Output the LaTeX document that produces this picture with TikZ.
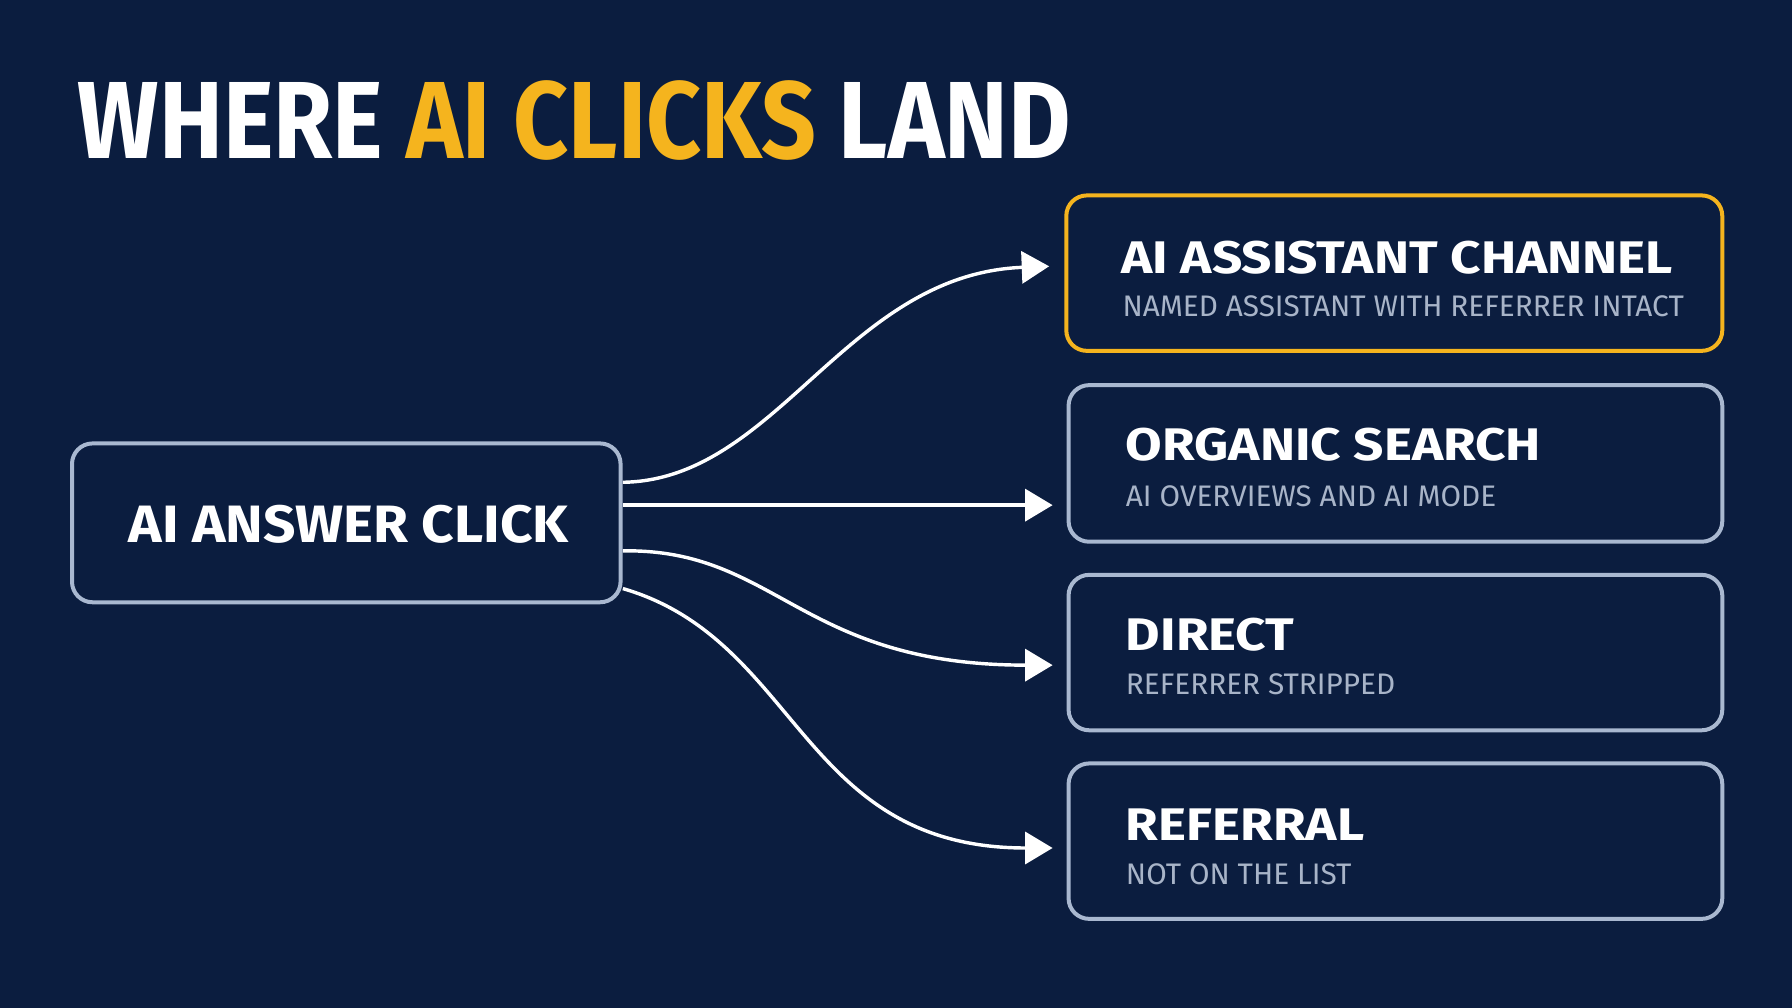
\documentclass[tikz,border=0pt]{standalone}
\usepackage{fontspec}
\setmainfont{Fira Sans}
\usetikzlibrary{arrows.meta}
\definecolor{bg}{HTML}{0B1D3F}
\definecolor{gold}{HTML}{F5B41E}
\definecolor{edge}{HTML}{A9B8D0}
\definecolor{sub}{HTML}{A8B4C8}
\newcommand{\wide}[2]{\scalebox{#1}[1]{#2}}
\begin{document}
\begin{tikzpicture}[x=1pt,y=-1pt,
  box/.style={draw=edge,line width=3.5pt,rounded corners=18pt,fill=bg},
  ttl/.style={anchor=base west,inner sep=0,text=white,font=\fontsize{40}{44}\selectfont\bfseries},
  subt/.style={anchor=base west,inner sep=0,text=sub,font=\fontsize{26}{30}\selectfont},
  con/.style={draw=white,line width=3pt,-{Triangle[length=24pt,width=28pt]}}]
\fill[bg] (0,0) rectangle (1568,882);
\useasboundingbox (0,0) rectangle (1568,882);
\node[anchor=base west,inner sep=0,font=\fontsize{96}{100}\selectfont\bfseries,text=white] (title) at (68,139)
  {\wide{0.875}{WHERE \textcolor{gold}{AI CLICKS} LAND}};
\draw[box] (63,388) rectangle (543,527);
\node[text=white,font=\fontsize{46}{50}\selectfont\bfseries] (src) at (305,459) {\wide{1.08}{AI ANSWER CLICK}};
\coordinate (src1) at (545,422);
\coordinate (src2) at (545,442);
\coordinate (src3) at (545,482);
\coordinate (src4) at (545,515);
\draw[box,draw=gold] (933,171) rectangle (1507,307);
\draw[box] (935,337) rectangle (1507,474);
\draw[box] (935,503) rectangle (1507,639);
\draw[box] (935,668) rectangle (1507,804);
\coordinate (t1) at (918,233);
\coordinate (t2) at (921,442);
\coordinate (t3) at (921,582);
\coordinate (t4) at (921,742);
\node[ttl] (a1) at (981,239) {\wide{1.16}{AI ASSISTANT CHANNEL}};
\node[subt] (b1) at (982,277) {NAMED ASSISTANT WITH REFERRER INTACT};
\node[ttl] (a2) at (985,403) {\wide{1.16}{ORGANIC SEARCH}};
\node[subt] (b2) at (985,443) {AI OVERVIEWS AND AI MODE};
\node[ttl] (a3) at (985,569) {\wide{1.16}{DIRECT}};
\node[subt] (b3) at (985,608) {REFERRER STRIPPED};
\node[ttl] (a4) at (985,735) {\wide{1.16}{REFERRAL}};
\node[subt] (b4) at (985,774) {NOT ON THE LIST};
\draw[con] (src1) .. controls (680,420) and (740,240) .. (t1);
\draw[con] (src2) -- (t2);
\draw[con] (src3) .. controls (680,480) and (700,582) .. (t3);
\draw[con] (src4) .. controls (700,560) and (700,742) .. (t4);
\end{tikzpicture}
\end{document}
